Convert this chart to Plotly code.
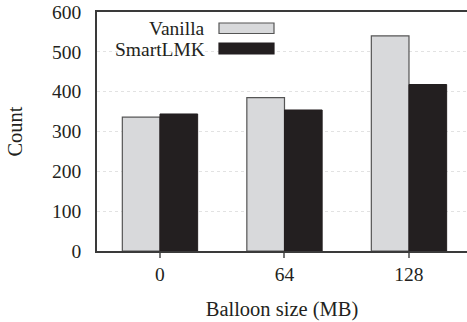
import plotly.graph_objects as go

categories = ["0", "64", "128"]
vanilla = [336, 385, 540]
smartlmk = [344, 354, 418]
series_names = ["Vanilla", "SmartLMK"]
y_ticks = [0, 100, 200, 300, 400, 500, 600]

FONT = "Liberation Serif"
LIGHT = "#d8d9db"
DARK = "#231f20"
EDGE = "#555555"

fig = go.Figure()
fig.add_trace(go.Bar(x=categories, y=vanilla, name=series_names[0],
                     marker=dict(color=LIGHT, line=dict(color=EDGE, width=1.2)),
                     showlegend=False))
fig.add_trace(go.Bar(x=categories, y=smartlmk, name=series_names[1],
                     marker=dict(color=DARK, line=dict(color=DARK, width=1)),
                     showlegend=False))

W, H = 467, 322
ml, mr, mt, mb = 97, 0, 12, 71
pw, ph = W - ml - mr, H - mt - mb

def px_x(x):
    return (x - ml) / pw

def px_y(y):
    return 1 - (y - mt) / ph

# custom legend: label left of swatch
legend_rows = [(series_names[0], LIGHT, EDGE, 23, 33.5), (series_names[1], DARK, DARK, 43, 54)]
for name, fill, edge, y0, y1 in legend_rows:
    fig.add_shape(type="rect", xref="paper", yref="paper",
                  x0=px_x(219), x1=px_x(274), y0=px_y(y1), y1=px_y(y0),
                  fillcolor=fill, line=dict(color=edge, width=1.2))
    fig.add_annotation(text=name, xref="paper", yref="paper",
                       x=px_x(207), y=px_y((y0 + y1) / 2 + 0.5), xanchor="right", yanchor="middle",
                       showarrow=False, font=dict(family=FONT, size=19.5, color="#231f20"))

fig.update_layout(
    width=W, height=H,
    margin=dict(l=ml, r=mr, t=mt, b=mb),
    paper_bgcolor="white", plot_bgcolor="white",
    barmode="group", bargap=0.395, bargroupgap=0,
    font=dict(family=FONT, size=19, color="#231f20"),
    xaxis=dict(
        type="category", range=[-0.506, 2.466],
        showline=True, linecolor="#3a3a3a", linewidth=1.5, mirror=True,
        ticks="outside", ticklen=5, tickcolor="#777777", tickwidth=1.5,
        showgrid=False, zeroline=False,
        title=dict(text="Balloon size (MB)", font=dict(family=FONT, size=20.5), standoff=17),
        tickfont=dict(family=FONT, size=19.5),
    ),
    yaxis=dict(
        range=[0, 600], tickvals=y_ticks,
        showline=True, linecolor="#3a3a3a", linewidth=1.5,
        showgrid=True, gridcolor="#e2e2e2", griddash="dot", gridwidth=1,
        zeroline=False, ticks="", ticklabelstandoff=10,
        title=dict(text="Count", font=dict(family=FONT, size=20.5), standoff=24),
        tickfont=dict(family=FONT, size=19.5),
    ),
)

fig.write_html("out.html")
